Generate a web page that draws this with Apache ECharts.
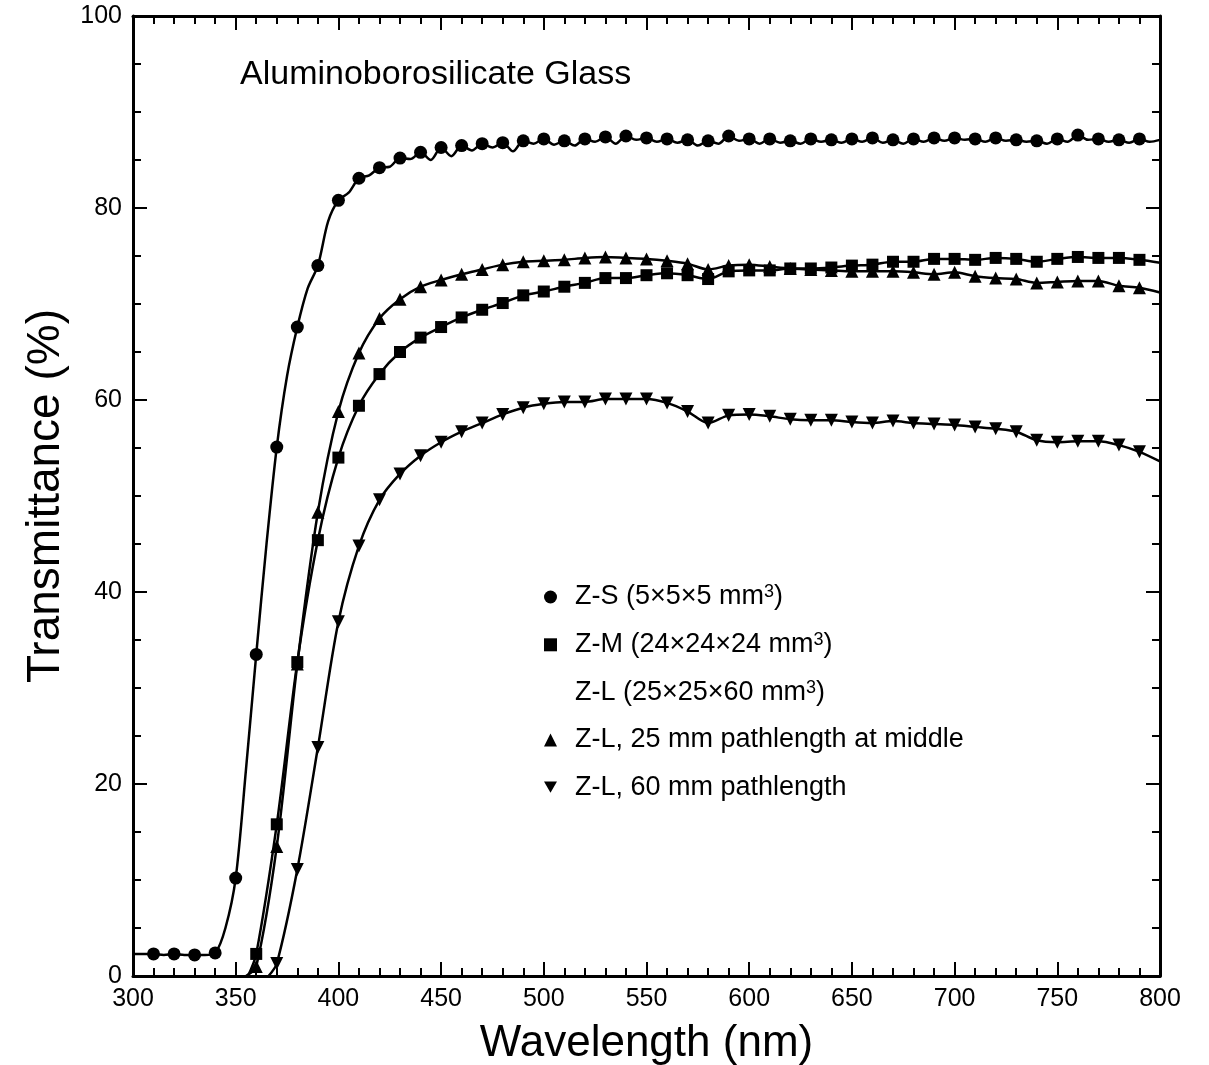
<!DOCTYPE html>
<html>
<head>
<meta charset="utf-8">
<script src="https://cdn.jsdelivr.net/npm/echarts@6/dist/echarts.min.js"></script>
<style>
html,body{margin:0;padding:0;background:#fff;}
#chart{width:1209px;height:1065px;}
</style>
</head>
<body>
<div id="chart"></div>
<script>
// ---------------- data ----------------
const xTicks = [300, 350, 400, 450, 500, 550, 600, 650, 700, 750, 800];
const yTicks = [0, 20, 40, 60, 80, 100];

const nameZS = 'Z-S (5×5×5 mm³)';
const nameZM = 'Z-M (24×24×24 mm³)';
const nameZL = 'Z-L (25×25×60 mm³)';
const nameZL25 = 'Z-L, 25 mm pathlength at middle';
const nameZL60 = 'Z-L, 60 mm pathlength';

// Z-S: measured every 5 nm (markers drawn every 10 nm)
const zsWl = [300,305,310,315,320,325,330,335,340,345,350,355,360,365,370,375,380,385,390,395,
  400,405,410,415,420,425,430,435,440,445,450,455,460,465,470,475,480,485,490,495,
  500,505,510,515,520,525,530,535,540,545,550,555,560,565,570,575,580,585,590,595,
  600,605,610,615,620,625,630,635,640,645,650,655,660,665,670,675,680,685,690,695,
  700,705,710,715,720,725,730,735,740,745,750,755,760,765,770,775,780,785,790,795,800];
const zsT = [2.3,2.3,2.3,2.2,2.3,2.2,2.2,2.2,2.4,5.0,10.2,21.5,33.5,45.0,55.1,62.5,67.6,71.6,74.0,78.6,
  80.8,81.6,83.1,83.4,84.2,84.3,85.2,85.1,85.8,85.0,86.3,85.4,86.5,86.0,86.7,86.3,86.8,85.9,87.0,86.7,
  87.2,86.6,87.0,86.5,87.2,86.9,87.4,86.7,87.5,87.1,87.3,86.9,87.2,86.8,87.1,86.5,87.0,86.7,87.5,87.0,
  87.2,86.7,87.2,86.8,87.0,86.7,87.2,86.9,87.1,86.8,87.2,86.9,87.3,86.8,87.1,86.7,87.2,86.9,87.3,87.0,
  87.3,87.1,87.2,86.9,87.3,87.0,87.1,86.9,87.0,86.7,87.2,86.9,87.6,87.1,87.2,86.9,87.1,86.8,87.2,86.9,87.1];

// Z-M
const zmWl = [356,360,370,380,390,400,410,420,430,440,450,460,470,480,490,500,510,520,530,540,550,560,570,580,590,
  600,610,620,630,640,650,660,670,680,690,700,710,720,730,740,750,760,770,780,790,800];
const zmT = [0,2.3,15.8,32.7,45.4,54.0,59.4,62.7,65.0,66.5,67.6,68.6,69.4,70.1,70.9,71.3,71.8,72.2,72.7,72.7,73.0,73.2,73.0,72.6,73.4,
  73.5,73.5,73.7,73.7,73.8,74.0,74.1,74.4,74.4,74.7,74.7,74.6,74.8,74.7,74.4,74.7,74.9,74.8,74.8,74.6,74.3];

// Z-L, 25 mm pathlength at middle
const zl25Wl = [355,360,370,380,390,400,410,420,430,440,450,460,470,480,490,500,510,520,530,540,550,560,570,580,590,
  600,610,620,630,640,650,660,670,680,690,700,710,720,730,740,750,760,770,780,790,800];
const zl25T = [0,1.0,13.5,32.5,48.3,58.8,64.9,68.5,70.5,71.8,72.5,73.1,73.6,74.1,74.4,74.5,74.6,74.8,74.9,74.8,74.7,74.5,74.2,73.6,74.0,
  74.1,73.9,73.7,73.6,73.5,73.4,73.4,73.4,73.3,73.1,73.3,72.9,72.7,72.6,72.2,72.3,72.4,72.4,71.9,71.7,71.2];

// Z-L, 60 mm pathlength
const zl60Wl = [366,370,380,390,400,410,420,430,440,450,460,470,480,490,500,510,520,530,540,550,560,570,580,590,
  600,610,620,630,640,650,660,670,680,690,700,710,720,730,740,750,760,770,780,790,800];
const zl60T = [0,1.3,11.1,23.8,36.9,44.8,49.6,52.3,54.2,55.6,56.7,57.6,58.5,59.2,59.6,59.8,59.8,60.1,60.1,60.1,59.7,58.8,57.6,58.4,
  58.5,58.3,58.0,57.9,57.9,57.7,57.6,57.8,57.6,57.5,57.4,57.2,57.0,56.7,55.8,55.6,55.7,55.7,55.3,54.6,53.6];

// ---------------- chart ----------------
const FONT = '"Liberation Sans", Arial, Helvetica, sans-serif';
const pairs = (xs, ys) => xs.map((x, i) => [x, ys[i]]);
// markers only on the 10-nm grid inside the frame
const markSize = s => v => (v[0] % 10 === 0 && v[0] > 300 && v[0] < 800 && v[1] > 0) ? s : 0;

const chart = echarts.init(document.getElementById('chart'), null, {renderer: 'canvas'});

const axisCommon = {
  type: 'value',
  axisLine: {show: true, onZero: false, lineStyle: {color: '#000', width: 3}},
  axisTick: {show: true, inside: true, length: 14, lineStyle: {color: '#000', width: 2}},
  minorTick: {show: true, length: 8, lineStyle: {color: '#000', width: 2}},
  splitLine: {show: false},
  minorSplitLine: {show: false}
};

function lineSeries(name, data, symbol, size, rotate) {
  return {
    name: name,
    type: 'line',
    data: data,
    smooth: 0.3,
    symbol: symbol,
    symbolSize: markSize(size),
    symbolRotate: rotate || 0,
    showAllSymbol: true,
    clip: true,
    lineStyle: {color: '#000', width: 2.5},
    itemStyle: {color: '#000'},
    emphasis: {disabled: true},
    z: 3
  };
}

function legendFmt(name) {
  const i = name.indexOf('³');
  if (i < 0) return '{n|' + name + '}';
  return '{n|' + name.slice(0, i) + '}{s|3}{n|' + name.slice(i + 1) + '}';
}

const option = {
  animation: false,
  backgroundColor: '#fff',
  title: {
    text: 'Aluminoborosilicate Glass',
    left: 235, top: 53,
    textStyle: {fontFamily: FONT, fontSize: 34, fontWeight: 'normal', color: '#000'}
  },
  grid: {left: 133, right: 49, top: 16, bottom: 89, containLabel: false, outerBoundsMode: 'none'},
  legend: {
    orient: 'vertical',
    left: 539, top: 578,
    itemWidth: 13, itemHeight: 13,
    itemGap: 20.3,
    selectedMode: false,
    formatter: legendFmt,
    textStyle: {
      color: '#000', fontFamily: FONT, padding: [0, 0, 0, 13],
      rich: {
        n: {fontSize: 27, lineHeight: 28, fontFamily: FONT, color: '#000'},
        s: {fontSize: 18, lineHeight: 12, verticalAlign: 'top', fontFamily: FONT, color: '#000'}
      }
    },
    data: [
      {name: nameZS, icon: 'circle'},
      {name: nameZM, icon: 'rect'},
      {name: nameZL, icon: 'circle', itemStyle: {opacity: 0}},
      {name: nameZL25, icon: 'triangle'},
      {name: nameZL60, icon: 'path://M0,0L10,0L5,8.66Z'}
    ]
  },
  xAxis: [
    Object.assign({}, axisCommon, {
      position: 'bottom', min: xTicks[0], max: xTicks[xTicks.length - 1], interval: 50,
      minorTick: Object.assign({}, axisCommon.minorTick, {splitNumber: 5}),
      axisLabel: {show: true, margin: 11, color: '#000', fontSize: 25, fontFamily: FONT, showMinLabel: true, showMaxLabel: true},
      name: 'Wavelength (nm)', nameLocation: 'middle', nameGap: 46,
      nameTextStyle: {color: '#000', fontSize: 44, fontFamily: FONT}
    }),
    Object.assign({}, axisCommon, {
      position: 'top', min: xTicks[0], max: xTicks[xTicks.length - 1], interval: 50,
      minorTick: Object.assign({}, axisCommon.minorTick, {splitNumber: 5}),
      axisLabel: {show: false}
    })
  ],
  yAxis: [
    Object.assign({}, axisCommon, {
      position: 'left', min: yTicks[0], max: yTicks[yTicks.length - 1], interval: 20,
      minorTick: Object.assign({}, axisCommon.minorTick, {splitNumber: 4}),
      axisLabel: {show: true, margin: 11, color: '#000', fontSize: 25, fontFamily: FONT},
      name: 'Transmittance (%)', nameLocation: 'middle', nameGap: 64, nameRotate: 90,
      nameTextStyle: {color: '#000', fontSize: 46, fontFamily: FONT}
    }),
    Object.assign({}, axisCommon, {
      position: 'right', min: yTicks[0], max: yTicks[yTicks.length - 1], interval: 20,
      minorTick: Object.assign({}, axisCommon.minorTick, {splitNumber: 4}),
      axisLabel: {show: false}
    })
  ],
  series: [
    lineSeries(nameZS, pairs(zsWl, zsT), 'circle', 13),
    lineSeries(nameZM, pairs(zmWl, zmT), 'rect', 12),
    {name: nameZL, type: 'line', data: [], itemStyle: {color: '#000'}, lineStyle: {color: '#000'}},
    lineSeries(nameZL25, pairs(zl25Wl, zl25T), 'triangle', 13),
    lineSeries(nameZL60, pairs(zl60Wl, zl60T), 'triangle', 13, 180)
  ]
};

chart.setOption(option);
</script>
</body>
</html>
